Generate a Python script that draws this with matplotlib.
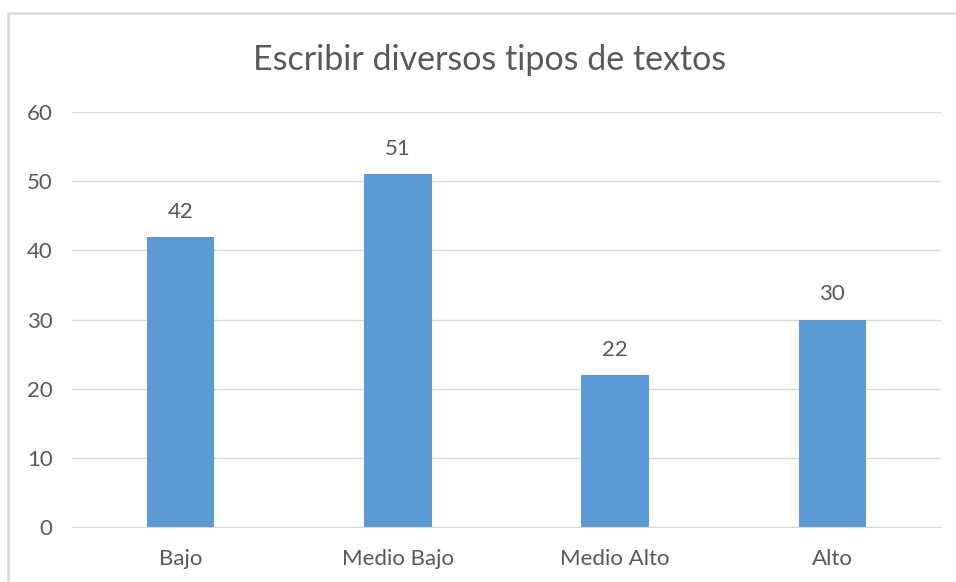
import matplotlib.pyplot as plt
from matplotlib.patches import Rectangle

niveles = ['Bajo', 'Medio Bajo', 'Medio Alto', 'Alto']
valores = [42, 51, 22, 30]
yticks = [0, 10, 20, 30, 40, 50, 60]

gris = '#595959'
plt.rcParams['font.family'] = ['Lato', 'DejaVu Sans']

fig = plt.figure(figsize=(9.56, 5.82), dpi=100)
ax = fig.add_axes([72/956, 1-527/582, 869/956, 415/582])

# marco del grafico
fig.patches.append(Rectangle((8/956, -0.1), 1.2, 1-13/582+0.1, transform=fig.transFigure,
                             fill=False, edgecolor='#D9D9D9', linewidth=1.8))

x = range(len(niveles))
barras = ax.bar(x, valores, width=0.31, color='#5B9BD5', zorder=2)
for b, v in zip(barras, valores):
    ax.annotate(str(v), (b.get_x() + b.get_width()/2, v), xytext=(0, 18),
                textcoords='offset points', ha='center', va='center',
                fontsize=16, color=gris)

ax.set_xlim(-0.5, len(niveles) - 0.5)
ax.set_ylim(0, 60)
ax.set_yticks(yticks)
ax.set_xticks(list(x))
ax.set_xticklabels(niveles)
ax.yaxis.grid(True, color='#D9D9D9', linewidth=1)
ax.set_axisbelow(True)
for s in ['top', 'right', 'left']:
    ax.spines[s].set_visible(False)
ax.spines['bottom'].set_color('#D9D9D9')
ax.tick_params(length=0, labelsize=16, labelcolor=gris)
ax.tick_params(axis='y', pad=14)
ax.tick_params(axis='x', pad=16)

fig.text(0.512, 1-60/582, 'Escribir diversos tipos de textos', ha='center', va='center',
         fontsize=24.5, color=gris)

fig.savefig('out.png', dpi=100)
